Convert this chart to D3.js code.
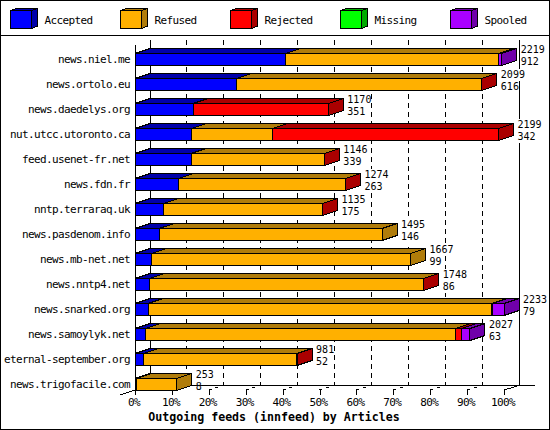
<!DOCTYPE html>
<html>
<head>
<meta charset="utf-8">
<script src="https://cdn.jsdelivr.net/npm/d3@7"></script>
<style>
  html, body { margin: 0; padding: 0; background: #fff; }
  svg { display: block; }
  text { font-family: "DejaVu Sans Mono", monospace; font-size: 11px; letter-spacing: -0.62px; fill: #000; }
  text.count { font-size: 10px; letter-spacing: 0; }
</style>
</head>
<body>
<div id="chart"></div>
<script>
// values, article counts per feed
const hosts = ["news.niel.me", "news.ortolo.eu", "news.daedelys.org", "nut.utcc.utoronto.ca",
  "feed.usenet-fr.net", "news.fdn.fr", "nntp.terraraq.uk", "news.pasdenom.info", "news.mb-net.net",
  "news.nntp4.net", "news.snarked.org", "news.samoylyk.net", "eternal-september.org", "news.trigofacile.com"];
const totals   = [2219, 2099, 1170, 2199, 1146, 1274, 1135, 1495, 1667, 1748, 2233, 2027, 981, 253];
const accepted = [912, 616, 351, 342, 339, 263, 175, 146, 99, 86, 79, 63, 52, 8];
const refused  = [1286, 1482, 0, 489, 806, 1010, 959, 1349, 1568, 1661, 2079, 1875, 928, 245];
const rejected = [0, 1, 819, 1368, 1, 1, 1, 0, 0, 1, 8, 39, 1, 0];
const missing  = [0, 0, 0, 0, 0, 0, 0, 0, 0, 0, 0, 0, 0, 0];
const spooled  = [21, 0, 0, 0, 0, 0, 0, 0, 0, 0, 67, 50, 0, 0];

const seriesNames = ["Accepted", "Refused", "Rejected", "Missing", "Spooled"];
const seriesValues = [accepted, refused, rejected, missing, spooled];
const percentTicks = [0, 10, 20, 30, 40, 50, 60, 70, 80, 90, 100];
const title = "Outgoing feeds (innfeed) by Articles";

const frontColors = ["#0000ff", "#ffb000", "#ff0000", "#00ff00", "#aa00ff"];
const sideColors  = ["#0000aa", "#b07c0a", "#aa0000", "#00aa00", "#7000aa"];

const width = 550, height = 430;
const depthX = 15, depthY = -5; // 3d offset of the back wall

const svg = d3.select("#chart").append("svg")
  .attr("width", width).attr("height", height)
  .attr("shape-rendering", "crispEdges");

// 100% is the biggest feed, not each feed's own total
const pct = d3.scaleLinear().domain([0, 100]).range([135, 504]);
const x = d3.scaleLinear().domain([0, d3.max(totals)]).range([135, 504]);
const y = d3.scaleBand().domain(hosts).range([40, 390]);
const barTop = h => y(h) + 13;
const barBottom = h => y(h) + y.bandwidth();

const poly = (pts, fill) => svg.append("polygon")
  .attr("points", pts.map(p => p.join(",")).join(" "))
  .attr("fill", fill).attr("stroke", "#000").attr("stroke-width", 1);

const line = (x1, y1, x2, y2) => svg.append("line")
  .attr("x1", x1).attr("y1", y1).attr("x2", x2).attr("y2", y2)
  .attr("stroke", "#000").attr("stroke-width", 1);

// frame and legend
svg.append("rect").attr("x", 0.5).attr("y", 0.5).attr("width", width - 1).attr("height", height - 1)
  .attr("fill", "none").attr("stroke", "#000").attr("stroke-width", 1.5);
line(0, 35.5, width, 35.5);

seriesNames.forEach((name, i) => {
  const lx = 10.5 + i * 110;
  poly([[lx, 10.5], [lx + 6, 8.5], [lx + 27, 8.5], [lx + 21, 10.5]], sideColors[i]);
  poly([[lx + 21, 10.5], [lx + 27, 8.5], [lx + 27, 26], [lx + 21, 28.5]], sideColors[i]);
  svg.append("rect").attr("x", lx).attr("y", 10.5).attr("width", 21).attr("height", 18)
    .attr("fill", frontColors[i]).attr("stroke", "#000");
  svg.append("text").attr("x", lx + 34).attr("y", 20).attr("dy", "0.35em").text(name);
});

// walls: left edges, right wall
const backY0 = 40, frontY0 = 390, backY1 = frontY0 + depthY;
line(135.5, 45, 135.5, 395);
line(pct(0) + depthX + 0.5, backY0, pct(0) + depthX + 0.5, backY1);
line(pct(100) + depthX + 0.5, backY0, pct(100) + depthX + 0.5, backY1 + 0.5);
line(120, 395, 135, 390);
line(pct(100), frontY0, pct(100) + depthX, backY1 + 0.5);

// grid on the back wall and floor, dashed
percentTicks.slice(1, -1).forEach(p => {
  const gx = pct(p);
  line(gx + depthX, backY0, gx + depthX, backY1).attr("stroke-dasharray", "5,4");
  line(gx, frontY0, gx + depthX, backY1 + 0.5).attr("stroke-dasharray", "3,4");
});

// percent ticks and labels
percentTicks.forEach(p => {
  line(Math.round(pct(p)) + 0.5, frontY0, Math.round(pct(p)) + 0.5, 395);
  svg.append("text").attr("x", pct(p) - 1).attr("y", 402.5).attr("dy", "0.35em")
    .attr("text-anchor", "middle").text(p + "%");
});

svg.append("text").attr("x", 274).attr("y", 417).attr("dy", "0.35em")
  .attr("text-anchor", "middle")
  .style("font-weight", "bold").style("font-size", "11.6px").style("letter-spacing", "0")
  .text(title);

// count label with a white patch, it hides the grid behind it
function countLabel(lx, ly, value) {
  const patch = svg.append("rect").attr("fill", "#fff");
  const t = svg.append("text").attr("class", "count")
    .attr("x", lx).attr("y", ly).attr("dy", "0.35em").text(value);
  const box = t.node().getBBox();
  patch.attr("x", box.x).attr("y", ly - 6).attr("width", box.width).attr("height", 12);
}

// stack the series per feed
const rows = hosts.map((h, i) => {
  const row = { host: h };
  seriesNames.forEach((s, j) => { row[s] = seriesValues[j][i]; });
  return row;
});
const stacked = d3.stack().keys(seriesNames)(rows);

// bars, top to bottom so lower rows sit over upper ones
rows.forEach((row, i) => {
  const h = row.host;
  const yT = barTop(h) + 0.5, yB = barBottom(h) + 0.5;
  let last = 0;
  stacked.forEach((layer, s) => {
    const [a, b] = layer[i];
    if (b === a) return;
    last = s;
    const xa = x(a), xb = x(b);
    // top face
    poly([[xa, yT], [xa + depthX, yT + depthY], [xb + depthX, yT + depthY], [xb, yT]], sideColors[s]);
    // front face
    svg.append("rect").attr("x", xa).attr("y", yT).attr("width", xb - xa).attr("height", yB - yT)
      .attr("fill", frontColors[s]).attr("stroke", "#000").attr("stroke-width", 1);
  });
  // side face takes the colour of the last non empty series
  const xe = x(totals[i]);
  poly([[xe, yT], [xe + depthX, yT + depthY], [xe + depthX, yB + depthY], [xe, yB]], sideColors[last]);

  // host label and the two counts
  svg.append("text").attr("x", 130).attr("y", (yT + yB) / 2).attr("dy", "0.35em")
    .attr("text-anchor", "end").text(h);
  countLabel(xe + 19, yT - 4, totals[i]);
  countLabel(xe + 19, yT + 8, accepted[i]);
});

// floor line goes last, from the lowest bar on, it runs through the lowest count label
line(x(totals[totals.length - 1]) + depthX, backY1 + 0.5, 535, backY1 + 0.5);
</script>
</body>
</html>
